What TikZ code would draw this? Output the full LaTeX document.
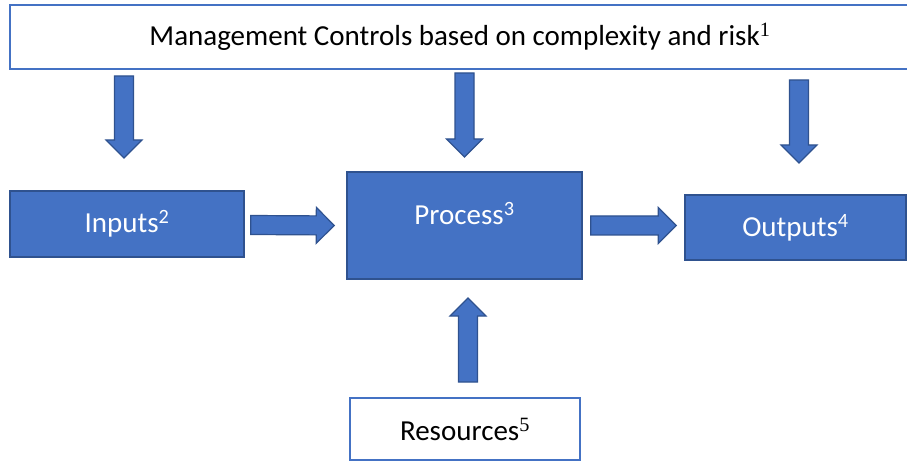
\documentclass[tikz,border=0pt]{standalone}
\usepackage{fontspec}
\setmainfont{Carlito}
\newfontfamily\supfont{Liberation Serif}
\usetikzlibrary{calc}
\definecolor{officeblue}{HTML}{4472C4}
\definecolor{officeedge}{HTML}{2F528F}
\begin{document}
\begin{tikzpicture}[x=1pt,y=-1pt,
    font=\fontsize{29}{34}\selectfont,
    whitebox/.style={draw=officeblue,line width=2pt,fill=white,text=black,inner sep=0pt},
    bluebox/.style={draw=officeedge,line width=1.5pt,fill=officeblue,text=white,inner sep=0pt},
    fat/.style={draw=officeedge,line width=1.2pt,fill=officeblue,
        to path={let \p1=(\tikztostart), \p2=(\tikztotarget), \p5=($(\p2)!18pt!(\p1)$) in
            ($(\p1)!9.5pt!90:(\p2)$) -- ($(\p5)!9.5pt!-90:(\p1)$) -- ($(\p5)!18pt!-90:(\p1)$)
            -- (\p2) -- ($(\p5)!18pt!90:(\p1)$) -- ($(\p5)!9.5pt!90:(\p1)$)
            -- ($(\p1)!9.5pt!-90:(\p2)$) -- cycle}}]
    \useasboundingbox (0,0) rectangle (907,462);
    \node[whitebox,minimum width=900pt,minimum height=64pt] (mgmt) at (460,37) {Management Controls based on complexity and risk\textsuperscript{\supfont 1}};
    \node[bluebox,minimum width=234pt,minimum height=66pt] (inputs) at (127,224) {Inputs\textsuperscript{2}};
    \node[bluebox,minimum width=235pt,minimum height=107pt,text depth=24pt] (process) at (464.5,225.5) {Process\textsuperscript{3}};
    \node[bluebox,minimum width=221pt,minimum height=65pt] (outputs) at (795.5,227.5) {Outputs\textsuperscript{4}};
    \node[whitebox,minimum width=230pt,minimum height=62pt] (resources) at (465,429) {Resources\textsuperscript{\supfont 5}};
    \coordinate (c1) at (124,158);
    \coordinate (c2) at (464.5,157);
    \coordinate (c3) at (799,163);
    \coordinate (c4) at (468,298);
    \draw[fat] (mgmt.south -| c1) ++(0,6) to (c1);
    \draw[fat] (mgmt.south -| c2) ++(0,3) to (c2);
    \draw[fat] (mgmt.south -| c3) ++(0,10) to (c3);
    \draw[fat] (inputs.east) ++(6,1) to ([xshift=-12pt]process.west);
    \draw[fat] ([xshift=8pt]process.east) to ($(outputs.west |- process.east)+(-8,0)$);
    \draw[fat] (resources.north -| c4) ++(0,-15) to (c4);
\end{tikzpicture}
\end{document}
